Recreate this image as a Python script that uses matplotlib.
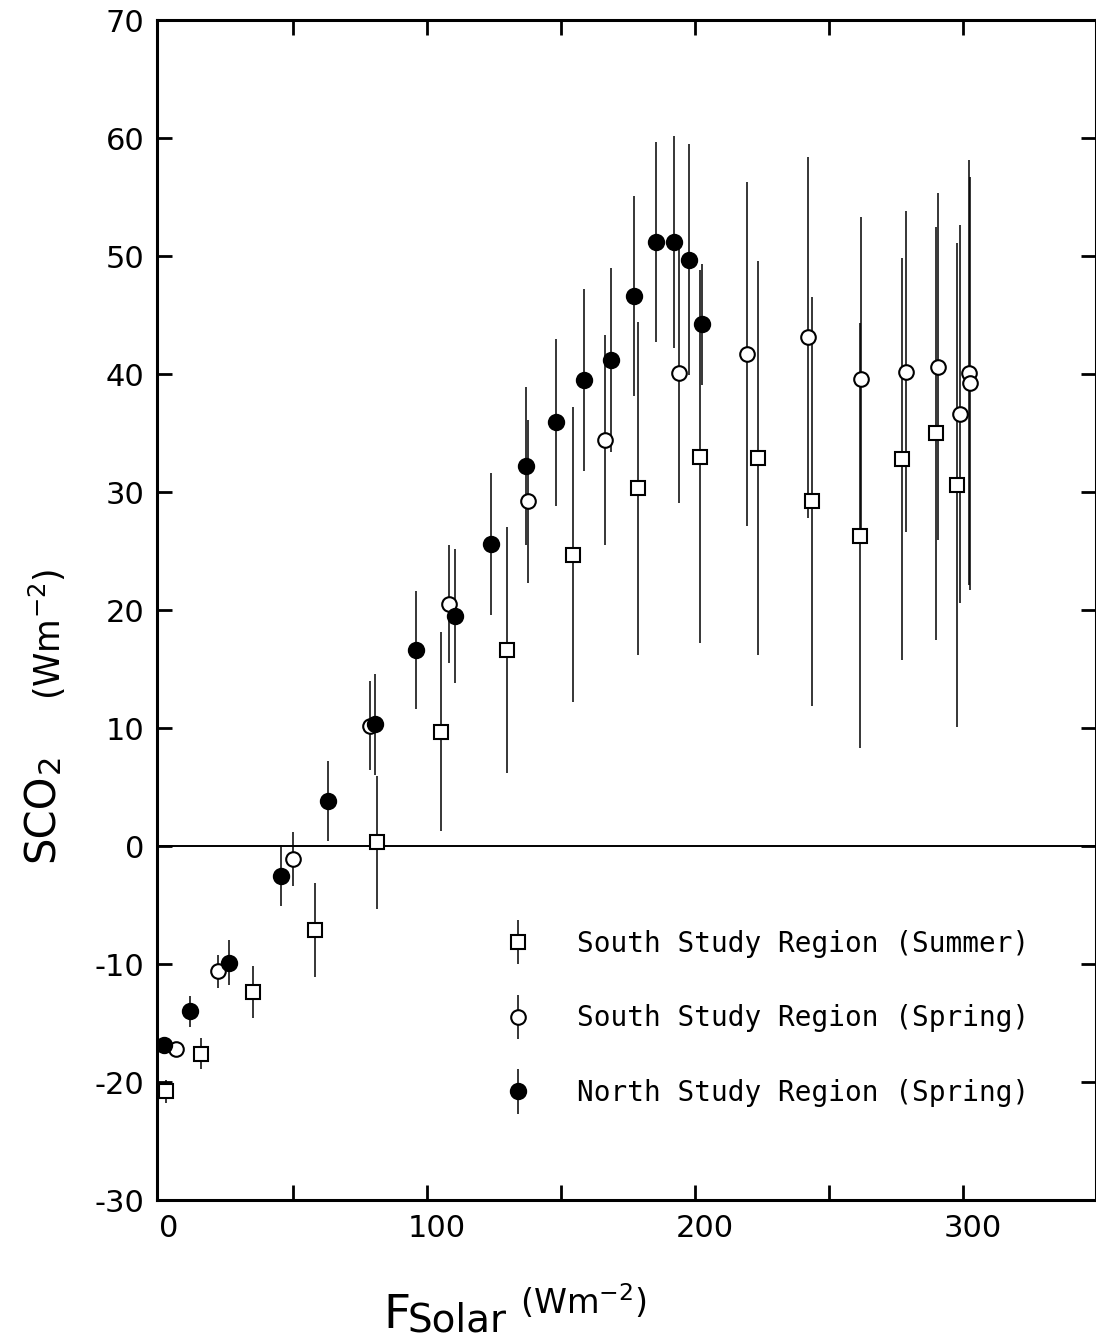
import matplotlib
matplotlib.use("Agg")
import matplotlib.pyplot as plt
from matplotlib import transforms
from matplotlib.container import ErrorbarContainer
from matplotlib.legend_handler import HandlerErrorbar

plt.rcParams["axes.unicode_minus"] = False

# values: solar flux (Wm-2), S_CO2 (Wm-2) and its error bar half-length
summer_x = [2.6, 15.7, 35.0, 58.2, 81.3, 105.2, 129.9, 154.5, 178.7, 201.9, 223.5, 243.7, 261.6, 277.2, 290.0, 297.8]
summer_y = [-20.8, -17.6, -12.4, -7.1, 0.3, 9.7, 16.6, 24.7, 30.3, 33.0, 32.9, 29.2, 26.3, 32.8, 35.0, 30.6]
summer_err = [1.0, 1.3, 2.2, 4.0, 5.6, 8.4, 10.4, 12.5, 14.1, 15.8, 16.7, 17.3, 18.0, 17.0, 17.5, 20.5]

spring_x = [6.3, 22.0, 50.0, 78.7, 108.2, 137.7, 166.4, 194.0, 219.4, 242.2, 262.0, 278.7, 290.7, 298.9, 302.2, 302.6]
spring_y = [-17.2, -10.6, -1.1, 10.2, 20.5, 29.2, 34.4, 40.1, 41.7, 43.1, 39.6, 40.2, 40.6, 36.6, 40.1, 39.2]
spring_err = [0.5, 1.4, 2.3, 3.8, 5.0, 6.9, 8.9, 11.0, 14.6, 15.3, 13.7, 13.6, 14.7, 16.0, 18.0, 17.5]

north_x = [1.9, 11.6, 26.1, 45.5, 63.0, 80.6, 95.9, 110.4, 123.9, 137.0, 148.1, 158.6, 168.7, 177.2, 185.4, 192.2, 197.8, 202.6]
north_y = [-16.9, -14.0, -9.9, -2.5, 3.8, 10.3, 16.6, 19.5, 25.6, 32.2, 35.9, 39.5, 41.2, 46.6, 51.2, 51.2, 49.7, 44.2]
north_err = [0.5, 1.3, 1.9, 2.6, 3.4, 4.3, 5.0, 5.7, 6.0, 6.7, 7.1, 7.7, 7.8, 8.5, 8.5, 9.0, 9.8, 5.1]

labels = ["South Study Region (Summer)",
          "South Study Region (Spring)",
          "North Study Region (Spring)"]

x_ticks = [0, 50, 100, 150, 200, 250, 300]
x_tick_labels = ["0", "", "100", "", "200", "", "300"]
y_ticks = list(range(-30, 71, 10))

W, H = 1096, 1338
fig = plt.figure(figsize=(W / 100, H / 100), dpi=100)
ax = fig.add_axes([157 / W, 138 / H, (W - 157) / W, 1180 / H])

#-- data
err_kw = dict(ls="none", ecolor="black", elinewidth=1.1, capsize=0,
              mec="black", mew=1.5)
h1 = ax.errorbar(summer_x, summer_y, yerr=summer_err, fmt="s", ms=10.5,
                 mfc="white", label=labels[0], zorder=3, **err_kw)
h2 = ax.errorbar(spring_x, spring_y, yerr=spring_err, fmt="o", ms=10.5,
                 mfc="white", label=labels[1], zorder=3, **err_kw)
h3 = ax.errorbar(north_x, north_y, yerr=north_err, fmt="o", ms=11,
                 mfc="black", label=labels[2], zorder=3, **err_kw)
ax.axhline(0, color="black", lw=1.4, zorder=1)

#-- axes
ax.set_xlim(-0.75, 349.6)
ax.set_ylim(-30, 70)
ax.set_xticks(x_ticks)
ax.set_xticklabels(x_tick_labels)
ax.set_yticks(y_ticks)
ax.tick_params(direction="in", length=11, width=2, labelsize=22,
               top=True, right=True, colors="black")
ax.tick_params(axis="x", pad=10)
ax.tick_params(axis="y", pad=9)
for s in ax.spines.values():
    s.set_linewidth(2.2)

# the tick at x=0 sits on the spine in the original, hide its mark
first = ax.xaxis.get_major_ticks()[0]
first.tick1line.set_visible(False)
first.tick2line.set_visible(False)

shift = transforms.ScaledTranslation(0.10, 0, fig.dpi_scale_trans)
for lab in ax.get_xticklabels():
    lab.set_transform(lab.get_transform() + shift)

#-- legend
ax.legend(handles=[h1, h2, h3], loc="upper left", bbox_to_anchor=(0.37, 0.229),
          frameon=False, prop={"family": "DejaVu Sans Mono", "size": 20},
          handlelength=1.0, handletextpad=1.6, labelspacing=1.68,
          borderpad=0, borderaxespad=0,
          handler_map={ErrorbarContainer: HandlerErrorbar(yerr_size=0.8)})

#-- axis titles
fig.text(42 / W, 1 - 862 / H, "SCO", rotation=90, fontsize=30, ha="center", va="bottom")
fig.text(50 / W, 1 - 773 / H, "2", rotation=90, fontsize=22, ha="center", va="bottom")
fig.text(47 / W, 1 - 700 / H, r"(Wm$^{\mathregular{-2}}$)", rotation=90, fontsize=25,
         ha="center", va="bottom")

fig.text(383 / W, 1 - 1328 / H, "F", fontsize=34, ha="left", va="baseline")
fig.text(408 / W, 1 - 1331 / H, "Solar", fontsize=28, ha="left", va="baseline")
fig.text(520 / W, 1 - 1314 / H, r"(Wm$^{\mathregular{-2}}$)", fontsize=24,
         ha="left", va="baseline")

fig.savefig("out.png", dpi=100)
